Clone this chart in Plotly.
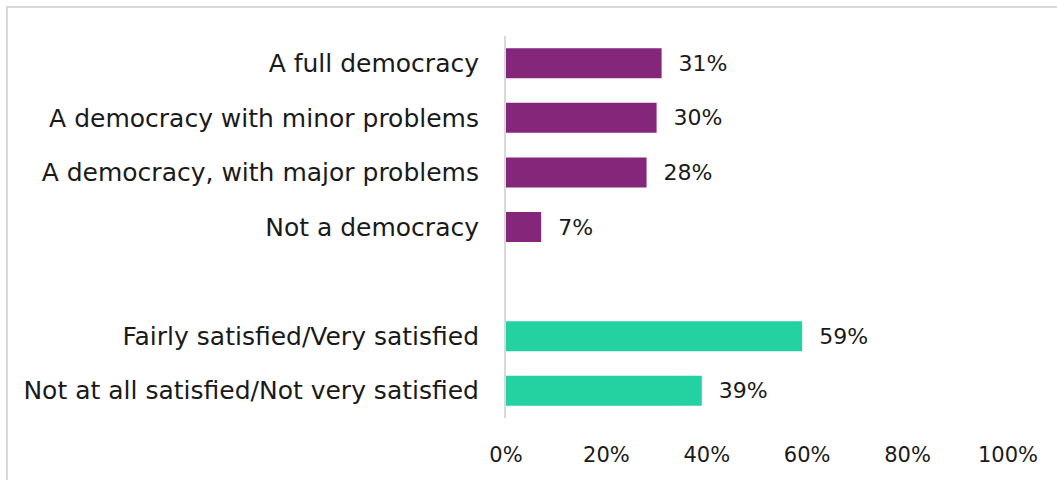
import plotly.graph_objects as go

democracy_labels = ["A full democracy", "A democracy with minor problems",
                    "A democracy, with major problems", "Not a democracy"]
democracy_values = [31, 30, 28, 7]
satisfaction_labels = ["Fairly satisfied/Very satisfied",
                       "Not at all satisfied/Not very satisfied"]
satisfaction_values = [59, 39]
gap_label = " "
x_ticks = [0, 20, 40, 60, 80, 100]
x_ticktext = ["0%", "20%", "40%", "60%", "80%", "100%"]

purple = "#84277A"
teal = "#24D1A1"
FONT = "DejaVu Sans"
TXT = "#1a1a1a"

order = democracy_labels + [gap_label] + satisfaction_labels

fig = go.Figure()
for vals, labs, col in [(democracy_values, democracy_labels, purple),
                        (satisfaction_values, satisfaction_labels, teal)]:
    fig.add_trace(go.Bar(
        x=vals, y=labs, orientation="h",
        marker=dict(color=col, line=dict(width=0)),
        text=[f"\u00a0\u00a0{v}%" for v in vals],
        textposition="outside", cliponaxis=False,
        textfont=dict(size=22, color=TXT, family=FONT),
        width=0.55, showlegend=False,
    ))

fig.update_layout(
    width=1057, height=480,
    margin=dict(l=506, r=49, t=36, b=62),
    paper_bgcolor="white", plot_bgcolor="white",
    font=dict(family=FONT, size=20, color=TXT),
    shapes=[dict(type="rect", xref="paper", yref="paper",
                 x0=-0.994, x1=1.2, y0=-0.3, y1=1.076,
                 line=dict(color="#d9d9d9", width=2), fillcolor="rgba(0,0,0,0)",
                 layer="below")],
)
fig.update_xaxes(range=[0, 100], tickvals=x_ticks, ticktext=x_ticktext,
                 showgrid=False, zeroline=False, showline=False,
                 ticks="", ticklabelstandoff=22,
                 tickfont=dict(size=21, family=FONT, color=TXT))
fig.update_yaxes(categoryorder="array", categoryarray=order[::-1],
                 showgrid=False, zeroline=False, showline=True,
                 linecolor="#d9d9d9", linewidth=2, ticks="",
                 ticklabelstandoff=20,
                 tickfont=dict(size=25, family=FONT, color=TXT))

fig.write_html("out.html")
